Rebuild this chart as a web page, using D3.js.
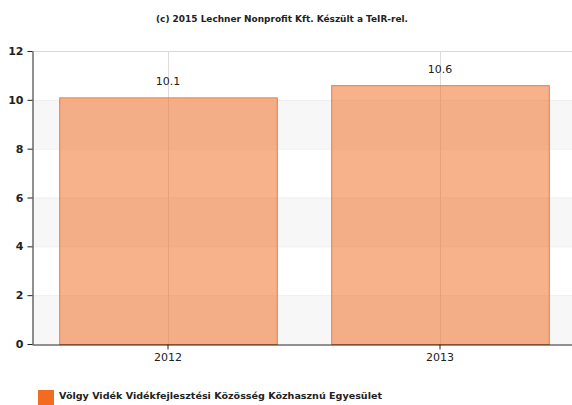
<!DOCTYPE html>
<html>
<head>
<meta charset="utf-8">
<script src="https://cdn.jsdelivr.net/npm/d3@7"></script>
<style>
  body { margin: 0; background: #fff; }
  text { font-family: "DejaVu Sans", Verdana, sans-serif; }
</style>
</head>
<body>
<script>
'use strict';

// chart data
const years = ['2012', '2013'];
const values = [10.1, 10.6];
const yTicks = [0, 2, 4, 6, 8, 10, 12];
const seriesName = 'Völgy Vidék Vidékfejlesztési Közösség Közhasznú Egyesület';
const title = '(c) 2015 Lechner Nonprofit Kft. Készült a TeIR-rel.';

(function () {
  const width = 572, height = 405;
  const left = 32, plotTop = 51, bottom = 344, right = 576;

  const svg = d3.select('body').append('svg')
    .attr('width', width)
    .attr('height', height);

  // scales
  const x = d3.scaleBand()
    .domain(years)
    .range([left, right])
    .paddingInner(0.2)
    .paddingOuter(0.1);

  const y = d3.scaleLinear()
    .domain([0, 12])
    .range([bottom, plotTop]);

  // alternating bands
  const bands = d3.range(0, 12, 2);
  svg.append('g').selectAll('rect')
    .data(bands)
    .enter().append('rect')
    .attr('x', left)
    .attr('y', d => y(d + 2))
    .attr('width', width - left)
    .attr('height', d => y(d) - y(d + 2))
    .attr('fill', (d, i) => i % 2 === 0 ? '#f7f7f7' : '#ffffff');

  // horizontal grid
  svg.append('g').selectAll('line')
    .data(yTicks.slice(1))
    .enter().append('line')
    .attr('x1', left).attr('x2', width)
    .attr('y1', d => y(d) + 0.5).attr('y2', d => y(d) + 0.5)
    .attr('stroke', d => d === 12 ? '#d8d8d8' : '#efefef');

  // vertical grid at category centres
  svg.append('g').selectAll('line')
    .data(years)
    .enter().append('line')
    .attr('x1', d => x(d) + x.bandwidth() / 2 + 0.5)
    .attr('x2', d => x(d) + x.bandwidth() / 2 + 0.5)
    .attr('y1', plotTop).attr('y2', bottom)
    .attr('stroke', '#dcdcdc');

  // bars
  svg.append('g').selectAll('rect')
    .data(values)
    .enter().append('rect')
    .attr('x', (d, i) => x(years[i]) + 0.5)
    .attr('y', d => y(d) + 0.5)
    .attr('width', x.bandwidth())
    .attr('height', d => bottom - y(d))
    .attr('fill', '#f26b21')
    .attr('fill-opacity', 0.52)
    .attr('stroke', '#ec7a3e')
    .attr('stroke-width', 1);

  // value labels
  svg.append('g').selectAll('text')
    .data(values)
    .enter().append('text')
    .attr('x', (d, i) => x(years[i]) + x.bandwidth() / 2)
    .attr('y', d => y(d) - 12)
    .attr('text-anchor', 'middle')
    .style('font-size', '11px')
    .attr('fill', '#222')
    .text(d => d.toFixed(1));

  // y axis
  const yAxis = d3.axisLeft(y).tickValues(yTicks).tickSize(5).tickSizeOuter(0);
  const gy = svg.append('g')
    .attr('transform', 'translate(' + (left + 0.5) + ',0)')
    .call(yAxis);
  gy.select('.domain').attr('stroke', '#222');
  gy.selectAll('.tick line').attr('stroke', '#222');
  gy.selectAll('.tick text')
    .style('font-size', '11px')
    .style('font-weight', 'bold')
    .attr('fill', '#222')
    .attr('x', -9);

  // x axis
  const xAxis = d3.axisBottom(x).tickSize(5).tickSizeOuter(0);
  const gx = svg.append('g')
    .attr('transform', 'translate(0,' + (bottom + 0.5) + ')')
    .call(xAxis);
  gx.select('.domain').attr('stroke', '#222');
  gx.selectAll('.tick line').attr('stroke', '#222');
  gx.selectAll('.tick text')
    .style('font-size', '11px')
    .attr('fill', '#222')
    .attr('y', 9);

  // title
  svg.append('text')
    .attr('x', 282)
    .attr('y', 22)
    .attr('text-anchor', 'middle')
    .style('font-size', '9px')
    .style('font-weight', 'bold')
    .attr('fill', '#222')
    .attr('textLength', 252)
    .attr('lengthAdjust', 'spacingAndGlyphs')
    .text(title);

  // legend
  svg.append('rect')
    .attr('x', 38).attr('y', 390)
    .attr('width', 16).attr('height', 16)
    .attr('fill', '#f26b21');
  svg.append('text')
    .attr('x', 59)
    .attr('y', 399)
    .style('font-size', '9px')
    .style('font-weight', 'bold')
    .attr('fill', '#222')
    .attr('textLength', 323)
    .attr('lengthAdjust', 'spacingAndGlyphs')
    .text(seriesName);
})();
</script>
</body>
</html>
